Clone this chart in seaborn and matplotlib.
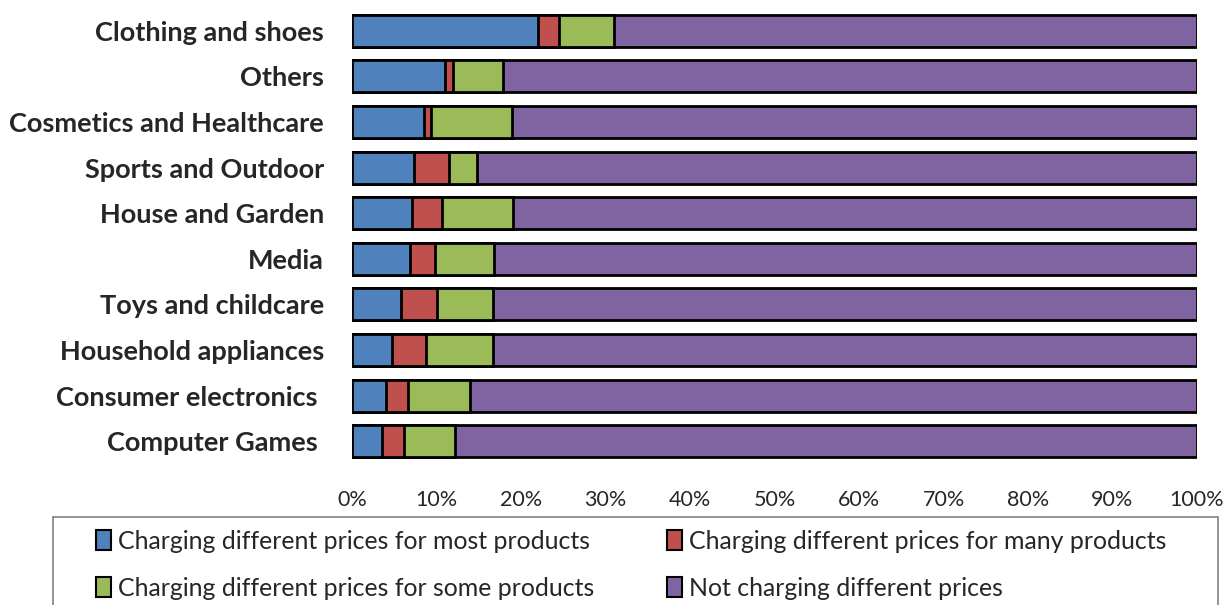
import numpy as np
import pandas as pd
import matplotlib
matplotlib.use('Agg')
import matplotlib.pyplot as plt
import seaborn as sns
from matplotlib.patches import Patch, Rectangle

categories = ['Clothing and shoes', 'Others', 'Cosmetics and Healthcare', 'Sports and Outdoor',
              'House and Garden', 'Media', 'Toys and childcare', 'Household appliances',
              'Consumer electronics ', 'Computer Games ']
most = [22.0, 11.0, 8.5, 7.3, 7.1, 6.9, 5.8, 4.7, 4.0, 3.6]
many = [2.5, 0.9, 0.9, 4.2, 3.6, 2.9, 4.3, 4.0, 2.6, 2.5]
some = [6.5, 6.0, 9.5, 3.3, 8.4, 7.0, 6.6, 8.0, 7.4, 6.1]
not_charging = [100 - a - b - c for a, b, c in zip(most, many, some)]

series = ['Charging different prices for most products',
          'Charging different prices for many products',
          'Charging different prices for some products',
          'Not charging different prices']
colors = ['#4F81BD', '#C0504D', '#9BBB59', '#8064A2']

df = pd.DataFrame({'category': categories, 'most': most, 'many': many,
                   'some': some, 'not': not_charging})
df['c1'] = df['most']
df['c2'] = df['c1'] + df['many']
df['c3'] = df['c2'] + df['some']
df['c4'] = df['c3'] + df['not']

sns.set_style('white')
plt.rcParams['font.family'] = ['Lato', 'DejaVu Sans']

W, H = 1227, 605
fig = plt.figure(figsize=(W / 100, H / 100), dpi=100)
ax = fig.add_axes([352 / W, 1 - 464 / H, 845 / W, 456 / H])

# draw cumulative totals back to front so they stack
for col, color in zip(['c4', 'c3', 'c2', 'c1'], colors[::-1]):
    sns.barplot(data=df, x=col, y='category', orient='h', color=color, width=0.7,
                edgecolor='black', linewidth=2, saturation=1, ax=ax)

ax.set_xlim(0, 100)
ax.set_ylim(9.5, -0.5)
ax.set_xticks(np.arange(0, 101, 10))
ax.set_xticklabels([f'{v}%' for v in range(0, 101, 10)], fontsize=15.5)
ax.tick_params(axis='y', labelsize=19.5, length=0, pad=20)
ax.tick_params(axis='x', length=0, pad=19)
for lbl in ax.get_yticklabels():
    lbl.set_fontweight('bold')
ax.set_xlabel('')
ax.set_ylabel('')
for s in ax.spines.values():
    s.set_visible(False)

# legend box (runs off the bottom edge like the original)
fig.patches.append(Rectangle((53 / W, -0.05), 1165 / W, (H - 517) / H + 0.05,
                             transform=fig.transFigure, facecolor='none',
                             edgecolor='#808080', linewidth=1.2))

handles = [Patch(facecolor=c, edgecolor='black', linewidth=1.5) for c in colors]
order = [0, 2, 1, 3]
leg = fig.legend([handles[i] for i in order], [series[i] for i in order],
                 loc='upper left', bbox_to_anchor=(96 / W, 1 - 530 / H),
                 ncol=2, fontsize=17.9, frameon=False,
                 handlelength=0.6, handleheight=0.85, handletextpad=0.3,
                 borderpad=0, borderaxespad=0, labelspacing=0.95, columnspacing=2.9)

fig.savefig('out.png', dpi=100)
